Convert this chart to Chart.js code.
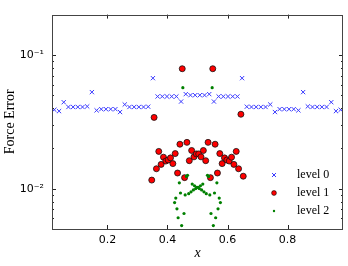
<!DOCTYPE html>
<html>
<head>
<meta charset="utf-8">
<script src="https://cdn.jsdelivr.net/npm/chart.js@4.4.1/dist/chart.umd.min.js"></script>
<style>
  body { margin: 0; background: #fff; }
</style>
</head>
<body>
<canvas id="canvas1" width="348" height="266"></canvas>
<script>
// datos: posiciones x de cada nivel y su error de fuerza
const lvl0X = [0.0234, 0.0391, 0.0547, 0.0703, 0.0859, 0.1016, 0.1172, 0.1328, 0.1484, 0.1641,
    0.1797, 0.1953, 0.2109, 0.2266, 0.2422, 0.2578, 0.2734, 0.2891, 0.3047, 0.3203,
    0.3359, 0.3516, 0.3672, 0.3828, 0.3984, 0.4141, 0.4297, 0.4453, 0.4609, 0.4766,
    0.4922, 0.5078, 0.5234, 0.5391, 0.5547, 0.5703, 0.5859, 0.6016, 0.6172, 0.6328,
    0.6484, 0.6641, 0.6797, 0.6953, 0.7109, 0.7266, 0.7422, 0.7578, 0.7734, 0.7891,
    0.8047, 0.8203, 0.8359, 0.8516, 0.8672, 0.8828, 0.8984, 0.9141, 0.9297, 0.9453,
    0.9609, 0.9766];
const lvl0Y = [0.0389, 0.0380, 0.0443, 0.0408, 0.0408, 0.0408, 0.0408, 0.0412, 0.0527, 0.0385,
    0.0393, 0.0393, 0.0393, 0.0393, 0.0374, 0.0426, 0.0408, 0.0408, 0.0408, 0.0408,
    0.0410, 0.0670, 0.0489, 0.0489, 0.0489, 0.0489, 0.0489, 0.0448, 0.0509, 0.0500,
    0.0500, 0.0500, 0.0500, 0.0509, 0.0448, 0.0489, 0.0489, 0.0489, 0.0489, 0.0489,
    0.0670, 0.0410, 0.0408, 0.0408, 0.0408, 0.0408, 0.0426, 0.0374, 0.0393, 0.0393,
    0.0393, 0.0393, 0.0385, 0.0527, 0.0412, 0.0408, 0.0408, 0.0408, 0.0408, 0.0443,
    0.0380, 0.0389];

const lvl1X = [0.3477, 0.3555, 0.3633, 0.3711, 0.3789, 0.3867, 0.3945, 0.4023, 0.4102, 0.4180,
    0.4258, 0.4336, 0.4414, 0.4492, 0.4570, 0.4648, 0.4727, 0.4805, 0.4883, 0.4961,
    0.5039, 0.5117, 0.5195, 0.5273, 0.5352, 0.5430, 0.5508, 0.5586, 0.5664, 0.5742,
    0.5820, 0.5898, 0.5977, 0.6055, 0.6133, 0.6211, 0.6289, 0.6367, 0.6445, 0.6523];
const lvl1Y = [0.0116, 0.0341, 0.0141, 0.0190, 0.0152, 0.0172, 0.0161, 0.0164, 0.0170, 0.0154,
    0.0183, 0.0131, 0.0215, 0.0788, 0.0121, 0.0222, 0.0162, 0.0193, 0.0173, 0.0182,
    0.0182, 0.0173, 0.0193, 0.0162, 0.0222, 0.0121, 0.0788, 0.0215, 0.0131, 0.0183,
    0.0154, 0.0170, 0.0164, 0.0161, 0.0172, 0.0152, 0.0190, 0.0141, 0.0360, 0.0124];

const lvl2X = [0.4238, 0.4277, 0.4316, 0.4355, 0.4395, 0.4434, 0.4473, 0.4512, 0.4551, 0.4590,
    0.4629, 0.4668, 0.4707, 0.4785, 0.4824, 0.4863, 0.4902, 0.4941, 0.4980,
    0.5020, 0.5059, 0.5098, 0.5137, 0.5176, 0.5215, 0.5293, 0.5332, 0.5371, 0.5410,
    0.5449, 0.5488, 0.5527, 0.5566, 0.5605, 0.5645, 0.5684, 0.5723, 0.5762];
const lvl2Y = [0.00788, 0.00851, 0.00707, 0.00607, 0.01106, 0.00929, 0.00530, 0.0569, 0.00653, 0.00898,
    0.01235, 0.01259, 0.00918, 0.00948, 0.01084, 0.00980, 0.01052, 0.01002, 0.01024,
    0.01024, 0.01002, 0.01052, 0.00980, 0.01084, 0.00948, 0.00918, 0.01259, 0.01235, 0.00898,
    0.00653, 0.0569, 0.00530, 0.00929, 0.00607, 0.01106, 0.00707, 0.00851, 0.00788];

const xTicks = [0.2, 0.4, 0.6, 0.8];
const yTicks = [0.01, 0.1];
const yLabels = ['10⁻²', '10⁻¹'];
const levelNames = ['level 0', 'level 1', 'level 2'];

const toPoints = (xs, ys) => xs.map((x, i) => ({ x: x, y: ys[i] }));

// minor ticks del eje log (2..9 por decada)
const yMinor = [];
[0.001, 0.01, 0.1].forEach(d => {
    for (let k = 2; k <= 9; k++) yMinor.push(d * k);
});

//----------------marco, ticks hacia adentro y leyenda
const marcoEjes = {
    id: 'marcoEjes',
    afterDraw(chart) {
        const c = chart.ctx;
        const a = chart.chartArea;
        const sx = chart.scales.x;
        const sy = chart.scales.y;
        c.save();
        c.strokeStyle = '#222';
        c.lineWidth = 1;
        c.beginPath();
        xTicks.forEach(v => {
            const p = Math.round(sx.getPixelForValue(v)) + 0.5;
            c.moveTo(p, a.bottom); c.lineTo(p, a.bottom - 4);
            c.moveTo(p, a.top); c.lineTo(p, a.top + 4);
        });
        yTicks.forEach(v => {
            const p = Math.round(sy.getPixelForValue(v)) + 0.5;
            c.moveTo(a.left, p); c.lineTo(a.left + 4, p);
            c.moveTo(a.right, p); c.lineTo(a.right - 4, p);
        });
        yMinor.forEach(v => {
            if (v < sy.min || v > sy.max) return;
            const p = Math.round(sy.getPixelForValue(v)) + 0.5;
            c.moveTo(a.left, p); c.lineTo(a.left + 2, p);
            c.moveTo(a.right, p); c.lineTo(a.right - 2, p);
        });
        c.stroke();
        c.strokeStyle = '#444';
        c.strokeRect(Math.round(a.left) + 0.5, Math.round(a.top) + 0.5,
            Math.round(a.right - a.left) - 1, Math.round(a.bottom - a.top));

        // leyenda
        const lx = 274, tx = 297;
        const rows = [175, 193, 211];
        c.strokeStyle = '#3a3aff';
        c.beginPath();
        c.moveTo(lx - 2, rows[0] - 2); c.lineTo(lx + 2, rows[0] + 2);
        c.moveTo(lx - 2, rows[0] + 2); c.lineTo(lx + 2, rows[0] - 2);
        c.stroke();
        c.fillStyle = '#ff0000';
        c.strokeStyle = '#000';
        c.lineWidth = 0.6;
        c.beginPath(); c.arc(lx, rows[1], 2.4, 0, Math.PI * 2); c.fill(); c.stroke();
        c.fillStyle = '#008000';
        c.beginPath(); c.arc(lx, rows[2], 1.2, 0, Math.PI * 2); c.fill();
        c.fillStyle = '#000';
        c.font = '12px "Liberation Serif"';
        c.textBaseline = 'middle';
        c.textAlign = 'left';
        levelNames.forEach((t, i) => c.fillText(t, tx, rows[i]));
        c.restore();
    }
};

//----------------GRAFICO

const ctx1 = document.getElementById('canvas1');

new Chart(ctx1, {
    type: 'scatter',
    data: {
        datasets: [{
            label: levelNames[0],
            data: toPoints(lvl0X, lvl0Y),
            pointStyle: 'crossRot',
            pointRadius: 3,
            borderColor: '#3a3aff',
            borderWidth: 1,
            order: 3
        },
        {
            label: levelNames[1],
            data: toPoints(lvl1X, lvl1Y),
            pointStyle: 'circle',
            pointRadius: 3,
            backgroundColor: '#ff0000',
            borderColor: '#111',
            borderWidth: 0.8,
            order: 2
        },
        {
            label: levelNames[2],
            data: toPoints(lvl2X, lvl2Y),
            pointStyle: 'circle',
            pointRadius: 1.6,
            backgroundColor: '#008000',
            borderWidth: 0,
            order: 1
        }]
    },
    options: {
        responsive: false,
        animation: false,
        layout: { padding: { top: 4, right: 5, left: 0, bottom: 0 } },
        plugins: {
            legend: { display: false },
            tooltip: { enabled: false }
        },
        scales: {
            x: {
                type: 'linear',
                min: 0.015625,
                max: 0.984375,
                afterBuildTicks: s => { s.ticks = xTicks.map(v => ({ value: v })); },
                afterFit: s => { s.height = 37; },
                grid: { display: false, drawTicks: false },
                border: { display: false },
                ticks: {
                    color: '#000',
                    padding: 5,
                    maxRotation: 0,
                    font: { family: 'DejaVu Sans', size: 11 },
                    callback: v => v.toFixed(1)
                },
                title: {
                    display: true,
                    text: 'x',
                    color: '#000',
                    padding: { top: 0, bottom: 4 },
                    font: { family: 'Liberation Serif', size: 14, style: 'italic' }
                }
            },
            y: {
                type: 'logarithmic',
                min: 0.005,
                max: 0.2,
                afterBuildTicks: s => { s.ticks = yTicks.map(v => ({ value: v })); },
                afterFit: s => { s.width = 52; },
                grid: { display: false, drawTicks: false },
                border: { display: false },
                ticks: {
                    color: '#000',
                    padding: 8,
                    font: { family: 'DejaVu Sans', size: 11 },
                    callback: (v, i) => yLabels[i]
                },
                title: {
                    display: true,
                    text: 'Force Error',
                    color: '#000',
                    padding: { top: 2, bottom: 2 },
                    font: { family: 'Liberation Serif', size: 14 }
                }
            }
        }
    },
    plugins: [marcoEjes]
});
</script>
</body>
</html>
